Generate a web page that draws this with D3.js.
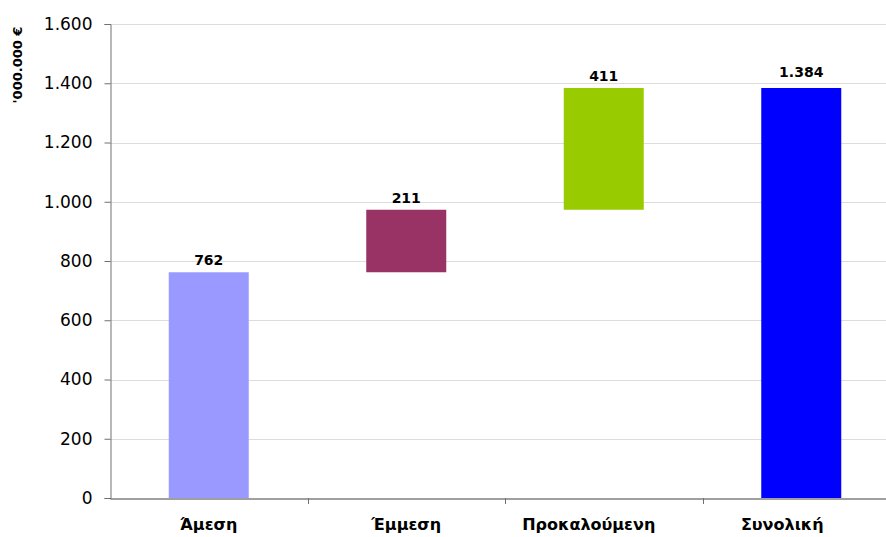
<!DOCTYPE html>
<html>
<head>
<meta charset="utf-8">
<script src="https://cdn.jsdelivr.net/npm/d3@7"></script>
<style>
  html, body { margin: 0; padding: 0; background: #fff; }
  svg { display: block; font-family: "DejaVu Sans", Verdana, sans-serif; }
</style>
</head>
<body>
<svg id="chart" width="886" height="537"></svg>
<script>
// Waterfall: three contributions stacked up to the total
const categories = ["Άμεση", "Έμμεση", "Προκαλούμενη", "Συνολική"];
const values = [762, 211, 411, 1384];
const isTotal = [false, false, false, true];
const colors = ["#9999FF", "#993366", "#99CC00", "#0000FF"];
const yTicks = [0, 200, 400, 600, 800, 1000, 1200, 1400, 1600];
const yTitle = "'000.000 €";

// running bases for the floating bars
let run = 0;
const bars = categories.map((c, i) => {
  const base = isTotal[i] ? 0 : run;
  const end = base + values[i];
  if (!isTotal[i]) run = end;
  return { cat: c, value: values[i], base, end, color: colors[i], total: isTotal[i] };
});

const fmt = v => d3.format(",")(v).replace(/,/g, ".");

const svg = d3.select("#chart");
const plotLeft = 110, plotRight = 900, plotTop = 24, plotBottom = 498;

const x = d3.scaleBand().domain(categories).range([plotLeft, plotRight]).paddingInner(0).paddingOuter(0);
const y = d3.scaleLinear().domain([0, 1600]).range([plotBottom, plotTop]);

// gridlines
svg.append("g")
  .selectAll("line")
  .data(yTicks.filter(t => t > 0))
  .join("line")
  .attr("x1", plotLeft).attr("x2", plotRight)
  .attr("y1", d => Math.round(y(d)) + 0.5).attr("y2", d => Math.round(y(d)) + 0.5)
  .attr("stroke", "#dcdcdc").attr("stroke-width", 1);

// bars
const barW = 80;
svg.append("g")
  .selectAll("rect")
  .data(bars)
  .join("rect")
  .attr("x", d => x(d.cat) + x.bandwidth() / 2 - barW / 2)
  .attr("y", d => y(d.end))
  .attr("width", barW)
  .attr("height", d => y(d.base) - y(d.end))
  .attr("fill", d => d.color);

// value labels
svg.append("g")
  .selectAll("text")
  .data(bars)
  .join("text")
  .attr("x", d => x(d.cat) + x.bandwidth() / 2)
  .attr("y", d => y(d.end) - (d.total ? 11 : 7))
  .attr("text-anchor", "middle")
  .attr("font-size", 14)
  .attr("font-weight", "bold")
  .attr("fill", "#000")
  .text(d => fmt(d.value));

// y axis
const yAxis = svg.append("g")
  .attr("transform", `translate(${plotLeft + 0.5},0)`)
  .call(d3.axisLeft(y).tickValues(yTicks).tickFormat(fmt).tickSize(6).tickPadding(12));
yAxis.select(".domain").attr("stroke", "#707070");
yAxis.selectAll(".tick line").attr("stroke", "#707070");
yAxis.selectAll(".tick text")
  .attr("font-size", 17)
  .attr("font-family", "DejaVu Sans, sans-serif")
  .attr("fill", "#000");

// x axis
const xAxis = svg.append("g")
  .attr("transform", `translate(0,${Math.round(plotBottom) + 0.5})`)
  .call(d3.axisBottom(x).tickSize(0).tickPadding(0).tickFormat(""));
xAxis.select(".domain").attr("stroke", "#404040");
xAxis.selectAll(".tick").remove();

// category boundary ticks
svg.append("g")
  .selectAll("line")
  .data(categories.slice(1))
  .join("line")
  .attr("x1", d => Math.round(x(d)) + 0.5).attr("x2", d => Math.round(x(d)) + 0.5)
  .attr("y1", Math.round(plotBottom)).attr("y2", Math.round(plotBottom) + 6)
  .attr("stroke", "#707070");

// category labels; the two right-hand labels sit a little left of their band centres
const labelNudge = [0, 0, -15, -19];
svg.append("g")
  .selectAll("text")
  .data(categories)
  .join("text")
  .attr("x", (d, i) => x(d) + x.bandwidth() / 2 + labelNudge[i])
  .attr("y", 530)
  .attr("text-anchor", "middle")
  .attr("font-size", 16)
  .attr("font-weight", "bold")
  .attr("fill", "#000")
  .text(d => d);

// y axis title
svg.append("text")
  .attr("transform", "translate(22,65) rotate(-90)")
  .attr("text-anchor", "middle")
  .attr("font-size", 13)
  .attr("font-weight", "bold")
  .attr("fill", "#000")
  .text(yTitle);
</script>
</body>
</html>
